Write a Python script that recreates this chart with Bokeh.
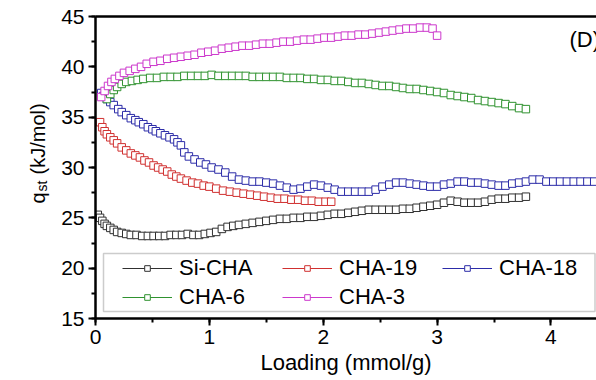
import math

from bokeh.plotting import figure
from bokeh.layouts import row
from bokeh.core.properties import value
from bokeh.models import (Range1d, LinearAxis, SingleIntervalTicker, FixedTicker,
                          Legend, LegendItem, Label, BoxAnnotation)
from bokeh.embed import file_html
from bokeh.resources import INLINE

FONT = "Liberation Sans"

# Isosteric heat of adsorption vs. loading
si_cha_x = [0.02, 0.04, 0.06, 0.08, 0.10, 0.13, 0.16, 0.19, 0.23, 0.27, 0.31,
            0.36, 0.41, 0.46, 0.51, 0.56, 0.61, 0.66, 0.71, 0.76, 0.81, 0.86, 0.91, 0.96,
            1.01, 1.06, 1.11, 1.16, 1.21, 1.26,
            1.32, 1.38, 1.44, 1.50, 1.56, 1.62, 1.68, 1.74, 1.80, 1.86, 1.92, 1.98,
            2.04, 2.10, 2.16, 2.22, 2.28, 2.34, 2.40, 2.46, 2.52, 2.58, 2.64, 2.70,
            2.76, 2.82, 2.88, 2.94, 3.00, 3.06, 3.12, 3.18, 3.24, 3.30, 3.36, 3.42,
            3.48, 3.54, 3.60, 3.66, 3.72, 3.78]
si_cha_y = [25.3, 25.0, 24.7, 24.4, 24.2, 24.0, 23.8, 23.6, 23.5, 23.4, 23.3,
            23.3, 23.2, 23.2, 23.2, 23.2, 23.2, 23.3, 23.3, 23.3, 23.4, 23.3, 23.3, 23.4,
            23.5, 23.6, 23.9, 24.1, 24.2, 24.3,
            24.4, 24.5, 24.6, 24.7, 24.8, 24.9, 24.9, 25.0, 25.0, 25.1, 25.1, 25.2,
            25.3, 25.4, 25.4, 25.5, 25.6, 25.7, 25.8, 25.8, 25.8, 25.8, 25.8, 25.9,
            25.9, 26.0, 26.1, 26.2, 26.3, 26.5, 26.7, 26.6, 26.5, 26.5, 26.5, 26.6,
            26.8, 26.9, 26.9, 27.0, 27.0, 27.1]

cha19_x = [0.04, 0.06, 0.08, 0.10, 0.13, 0.16, 0.19,
           0.23, 0.27, 0.31, 0.35, 0.39, 0.43, 0.47, 0.51, 0.55, 0.59, 0.63, 0.67, 0.71, 0.75,
           0.80, 0.85, 0.90, 0.95, 1.00,
           1.06, 1.12, 1.18, 1.24, 1.30, 1.36, 1.42, 1.48, 1.54, 1.60, 1.66, 1.72, 1.78,
           1.84, 1.90, 1.96, 2.02, 2.07]
cha19_y = [34.5, 34.0, 33.6, 33.3, 33.0, 32.7, 32.4,
           32.0, 31.7, 31.4, 31.2, 31.0, 30.7, 30.5, 30.2, 30.0, 29.8, 29.6, 29.3, 29.1, 28.9,
           28.7, 28.5, 28.4, 28.2, 28.1,
           27.9, 27.7, 27.6, 27.5, 27.4, 27.3, 27.2, 27.1, 27.0, 26.9, 26.9, 26.8, 26.8,
           26.7, 26.7, 26.6, 26.6, 26.6]

cha18_x = [0.05, 0.07, 0.10, 0.13, 0.16, 0.20, 0.23, 0.27, 0.31, 0.35,
           0.38, 0.42, 0.46, 0.50, 0.53, 0.57, 0.61, 0.65, 0.69, 0.72,
           0.75, 0.78, 0.82, 0.87, 0.92, 0.97, 1.02,
           1.08, 1.14, 1.20, 1.26, 1.32, 1.38, 1.44, 1.50, 1.56, 1.62,
           1.68, 1.74, 1.80, 1.86, 1.92, 1.98, 2.04, 2.10, 2.16, 2.22,
           2.28, 2.34, 2.40, 2.46, 2.52, 2.58, 2.64, 2.70, 2.76, 2.82,
           2.88, 2.94, 3.00, 3.06, 3.12, 3.18, 3.24, 3.30, 3.36, 3.42,
           3.48, 3.54, 3.60, 3.66, 3.72, 3.78, 3.84, 3.90, 3.96, 4.02,
           4.08, 4.14, 4.20, 4.26, 4.32, 4.38]
cha18_y = [37.4, 37.1, 36.8, 36.5, 36.2, 35.8, 35.5, 35.2, 34.9, 34.7,
           34.5, 34.3, 34.0, 33.8, 33.6, 33.4, 33.2, 33.0, 32.8, 32.5,
           32.2, 31.5, 31.1, 30.8, 30.5, 30.3, 30.0,
           29.8, 29.5, 29.1, 28.8, 28.7, 28.6, 28.6, 28.5, 28.4, 28.2,
           28.0, 27.8, 27.9, 28.1, 28.3, 28.2, 28.0, 27.8, 27.6, 27.6,
           27.6, 27.6, 27.6, 27.8, 28.1, 28.3, 28.5, 28.5, 28.4, 28.3,
           28.2, 28.1, 28.1, 28.3, 28.4, 28.6, 28.6, 28.5, 28.5, 28.4,
           28.3, 28.2, 28.2, 28.4, 28.5, 28.6, 28.8, 28.8, 28.6, 28.6,
           28.6, 28.6, 28.6, 28.6, 28.6, 28.6]

cha6_x = [0.10, 0.13, 0.16, 0.19, 0.23, 0.27, 0.32, 0.37, 0.42,
          0.48, 0.54, 0.60, 0.66, 0.72, 0.78, 0.84, 0.90, 0.96, 1.02,
          1.08, 1.14, 1.20, 1.26, 1.32, 1.38, 1.44, 1.50, 1.56, 1.62,
          1.68, 1.74, 1.80, 1.86, 1.92, 1.98, 2.04, 2.10, 2.16, 2.22,
          2.28, 2.34, 2.40, 2.46, 2.52, 2.58, 2.64, 2.70, 2.76, 2.82,
          2.88, 2.94, 3.00, 3.06, 3.12, 3.18, 3.24, 3.30, 3.36, 3.42,
          3.48, 3.54, 3.60, 3.66, 3.72, 3.78]
cha6_y = [36.8, 37.3, 37.7, 38.0, 38.3, 38.5, 38.6, 38.7, 38.8,
          38.9, 38.9, 39.0, 39.0, 39.0, 39.1, 39.1, 39.1, 39.1, 39.2,
          39.1, 39.1, 39.1, 39.1, 39.1, 39.0, 39.0, 39.0, 39.0, 39.0,
          38.9, 38.9, 38.9, 38.8, 38.8, 38.7, 38.7, 38.6, 38.6, 38.5,
          38.4, 38.4, 38.3, 38.2, 38.1, 38.1, 38.0, 37.9, 37.8, 37.8,
          37.7, 37.6, 37.5, 37.4, 37.2, 37.1, 37.0, 36.9, 36.7, 36.6,
          36.5, 36.4, 36.3, 36.1, 35.9, 35.8]

cha3_x = [0.05, 0.08, 0.11, 0.14, 0.17, 0.21, 0.25, 0.30, 0.35, 0.40, 0.45,
          0.51, 0.57, 0.63, 0.69, 0.75, 0.81, 0.87, 0.93, 0.99, 1.05,
          1.11, 1.17, 1.23, 1.29, 1.35, 1.41, 1.47, 1.53, 1.59, 1.65,
          1.71, 1.77, 1.83, 1.89, 1.95, 2.01, 2.07, 2.13, 2.19, 2.25,
          2.31, 2.37, 2.43, 2.49, 2.55, 2.61, 2.67, 2.73, 2.79, 2.85,
          2.91, 2.96, 3.00]
cha3_y = [37.0, 37.6, 38.1, 38.5, 38.8, 39.1, 39.4, 39.6, 39.8, 40.0, 40.3,
          40.5, 40.6, 40.8, 40.9, 41.0, 41.1, 41.2, 41.4, 41.5, 41.6,
          41.8, 41.9, 42.0, 42.1, 42.1, 42.2, 42.3, 42.3, 42.4, 42.5,
          42.5, 42.6, 42.7, 42.7, 42.8, 42.9, 42.9, 43.0, 43.1, 43.1,
          43.2, 43.2, 43.3, 43.4, 43.5, 43.6, 43.7, 43.8, 43.8, 43.9,
          43.9, 43.8, 43.1]

series = [
    ("Si-CHA", si_cha_x, si_cha_y, "#303030"),
    ("CHA-19", cha19_x, cha19_y, "#d03030"),
    ("CHA-18", cha18_x, cha18_y, "#2c2ca8"),
    ("CHA-6", cha6_x, cha6_y, "#2f922f"),
    ("CHA-3", cha3_x, cha3_y, "#cc38cc"),
]

H = 380
BORDER_TOP = 16
BORDER_BOTTOM = 62

# y-axis title strip (q with subscript "st"); its frame is aligned with the
# main plot frame, so the range is set up to read as page pixels from the bottom
TITLE_W = 50
ytitle = figure(width=TITLE_W, height=H, output_backend="svg", toolbar_location=None,
                x_range=Range1d(0, TITLE_W),
                y_range=Range1d(BORDER_BOTTOM, H - BORDER_TOP),
                x_axis_type=None, y_axis_type=None,
                min_border_left=0, min_border_right=0,
                min_border_top=BORDER_TOP, min_border_bottom=BORDER_BOTTOM)
ytitle.outline_line_color = None
ytitle.grid.visible = False
title_parts = ["q", "st", "(kJ/mol)"]
title_x = [37.0, 41.5, 37.0]
title_y = [177, 189, 206]
title_sizes = ["20px", "14px", "20px"]
ytitle.text(x=title_x, y=title_y, text=title_parts, angle=math.pi / 2,
            text_font=value(FONT), text_font_size=title_sizes,
            text_align="left", text_baseline="middle", text_color="black")

p = figure(width=596 - TITLE_W, height=H, output_backend="svg", toolbar_location=None,
           x_range=Range1d(0, 4.4), y_range=Range1d(15, 45),
           min_border_left=95 - TITLE_W, min_border_right=0,
           min_border_top=BORDER_TOP, min_border_bottom=BORDER_BOTTOM,
           x_axis_label="Loading (mmol/g)")
p.outline_line_color = None
p.grid.visible = False
p.background_fill_color = "white"
p.border_fill_color = "white"

p.xaxis.ticker = SingleIntervalTicker(interval=1, num_minor_ticks=2)
p.yaxis.ticker = SingleIntervalTicker(interval=5, num_minor_ticks=2)
for ax in (p.xaxis[0], p.yaxis[0]):
    ax.axis_line_width = 2.5
    ax.axis_line_color = "black"
    ax.major_tick_line_width = 2
    ax.minor_tick_line_width = 2
    ax.major_tick_in = 0
    ax.major_tick_out = 7
    ax.minor_tick_in = 0
    ax.minor_tick_out = 4
    ax.major_label_text_font = FONT
    ax.major_label_text_font_size = "21px"
    ax.major_label_text_color = "black"
    ax.major_label_standoff = 4
p.xaxis.axis_label_text_font = FONT
p.xaxis.axis_label_text_font_size = "22px"
p.xaxis.axis_label_text_font_style = "normal"
p.xaxis.axis_label_text_color = "black"
p.xaxis.axis_label_standoff = 3

# plain top border line
top_axis = LinearAxis(ticker=FixedTicker(ticks=[], minor_ticks=[]),
                      axis_line_width=2.5, axis_line_color="black",
                      major_tick_out=0, major_tick_in=0,
                      minor_tick_out=0, minor_tick_in=0)
p.add_layout(top_axis, "above")

items = []
for name, xs, ys, color in series:
    ln = p.line(xs, ys, line_color=color, line_width=1)
    sc = p.scatter(xs, ys, marker="square", size=7.5, line_color=color,
                   line_width=1, fill_color="white")
    items.append(LegendItem(label=name, renderers=[ln, sc]))

# panel tag
p.add_layout(Label(x=474, y=279, x_units="screen", y_units="screen", text="(D)",
                   text_font=FONT, text_font_size="22px", text_align="left",
                   text_baseline="middle", text_color="black"))

# legend frame
p.add_layout(BoxAnnotation(left=8, right=499.5, bottom=7, top=65,
                           left_units="screen", right_units="screen",
                           bottom_units="screen", top_units="screen",
                           fill_color="white", fill_alpha=1.0,
                           line_color="#555555", line_width=1.5))

legend = Legend(items=items, location=(27, 8), orientation="horizontal", ncols=3,
                glyph_width=50, glyph_height=14, label_standoff=7, label_width=100,
                spacing=3, padding=0, margin=0, border_line_color=None,
                background_fill_alpha=0, label_text_font=FONT,
                label_text_font_size="22px", label_text_color="black")
p.add_layout(legend, "center")

layout = row(ytitle, p)
open("out.html", "w").write(file_html(layout, INLINE))
